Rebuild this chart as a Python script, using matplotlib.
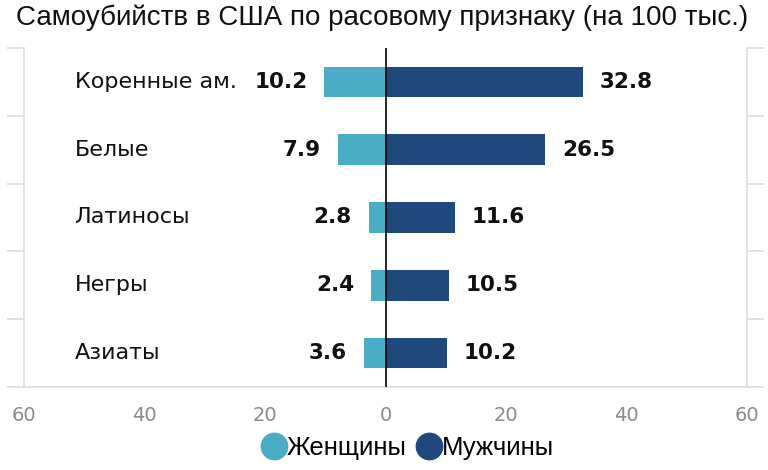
import numpy as np
import matplotlib
matplotlib.use("Agg")
import matplotlib.pyplot as plt
from matplotlib.lines import Line2D

plt.rcParams['font.family'] = ['Liberation Sans', 'DejaVu Sans']

categories = ['Коренные ам.', 'Белые', 'Латиносы', 'Негры', 'Азиаты']
women = [10.2, 7.9, 2.8, 2.4, 3.6]
men = [32.8, 26.5, 11.6, 10.5, 10.2]
xticks = [-60, -40, -20, 0, 20, 40, 60]
xticklabels = ['60', '40', '20', '0', '20', '40', '60']

c_women = '#4BACC6'
c_men = '#1F497D'
c_axis = '#d9dce8'

fig = plt.figure(figsize=(7.68, 4.70), dpi=100)
ax = fig.add_axes([24 / 768, 1 - 387 / 470, 723 / 768, 339 / 470])

y = np.arange(len(categories))
ax.barh(y, [-w for w in women], height=0.45, color=c_women, zorder=2)
ax.barh(y, men, height=0.45, color=c_men, zorder=2)
ax.axvline(0, color='black', lw=1.2, zorder=3)

ax.set_xlim(-60, 60)
ax.set_ylim(len(categories) - 0.5, -0.5)

for i, (w, m) in enumerate(zip(women, men)):
    ax.annotate(f'{w}', (-w, i), xytext=(-12, 0), textcoords='offset points',
                ha='right', va='center', fontsize=15.5, fontweight='bold',
                family='DejaVu Sans', color='#111111')
    ax.annotate(f'{m}', (m, i), xytext=(12, 0), textcoords='offset points',
                ha='left', va='center', fontsize=15.5, fontweight='bold',
                family='DejaVu Sans', color='#111111')
    ax.text(-51.6, i, categories[i], ha='left', va='center', fontsize=16,
            family='DejaVu Sans', color='#111111')

# y ticks on category boundaries, both sides
ax.set_yticks(np.arange(-0.5, len(categories), 1.0))
ax.set_yticklabels([])
ax.tick_params(axis='y', which='both', left=True, right=True, direction='out',
               length=12, width=1.2, color=c_axis)
ax.set_xticks(xticks)
ax.set_xticklabels(xticklabels, fontsize=14, color='#8a8a8a', family='DejaVu Sans')
ax.tick_params(axis='x', length=0, pad=14)

for side in ['left', 'right', 'bottom']:
    ax.spines[side].set_color(c_axis)
    ax.spines[side].set_linewidth(1.2)
ax.spines['top'].set_visible(False)

fig.text(0.497, 0.962, 'Самоубийств в США по расовому признаку (на 100 тыс.)',
         ha='center', va='center', fontsize=20, color='#111111')

handles = [Line2D([], [], marker='o', ls='', markersize=19, color=c_women),
           Line2D([], [], marker='o', ls='', markersize=19, color=c_men)]
fig.legend(handles, ['Женщины', 'Мужчины'], loc='center', bbox_to_anchor=(0.529, 0.047),
           ncol=2, frameon=False, fontsize=18.5, handletextpad=-0.1, columnspacing=0.3,
           handlelength=1.2)

fig.savefig('out.png', dpi=100)
